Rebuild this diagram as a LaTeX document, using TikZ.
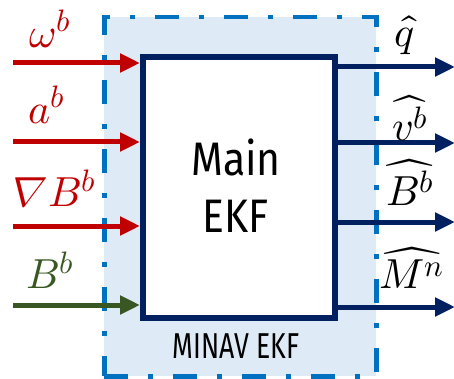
\documentclass[tikz,border=0pt]{standalone}
\usepackage{fontspec}
\usepackage[nabla=italic]{unicode-math}
\newfontfamily\boxfont{Fira Sans}[FakeStretch=0.87]
\newfontfamily\condfont{Fira Sans}[FakeStretch=0.74]
\newcommand\supx[1]{^{\hbox{\fontsize{31}{31}\selectfont$#1$}}}
\usetikzlibrary{arrows.meta}
\definecolor{navy}{HTML}{002060}
\definecolor{inred}{HTML}{C00000}
\definecolor{ingreen}{HTML}{385723}
\definecolor{dashblue}{HTML}{0070C0}
\definecolor{fillblue}{HTML}{DEEBF7}
\tikzset{
  sig/.style={line width=5pt, -{Triangle[length=20pt,width=18pt]}},
  mathlbl/.style={font=\fontsize{42}{44}\selectfont, inner sep=0pt},
}
\begin{document}
\begin{tikzpicture}[x=1pt,y=-1pt]
\useasboundingbox (0,0) rectangle (454,379);
% outer block
\node[draw=dashblue, fill=fillblue, line width=4.5pt,
      dash pattern=on 24pt off 20pt on 5pt off 20pt,
      minimum width=272pt, minimum height=359pt, inner sep=0pt,
      anchor=north west] (outer) at (102,15) {};
\node[font=\condfont\fontsize{36}{36}\selectfont, inner sep=0pt] (minav) at (236,346) {MINAV EKF};
% main block
\node[draw=navy, fill=white, line width=6pt,
      minimum width=192pt, minimum height=261pt, inner sep=0pt,
      anchor=north west] (main) at (140,54) {};
\node[font=\boxfont\fontsize{47}{57}\selectfont, align=center, inner sep=0pt] (title) at (236,186) {Main\\EKF};
% inputs
\coordinate (i1) at (13,63);
\coordinate (i2) at (13,142);
\coordinate (i3) at (13,226);
\coordinate (i4) at (13,305);
\draw[sig, inred] (i1) -- (i1 -| main.west);
\draw[sig, inred] (i2) -- (i2 -| main.west);
\draw[sig, inred] (i3) -- (i3 -| main.west);
\draw[sig, ingreen] (i4) -- (i4 -| main.west);
\node[mathlbl, text=inred] (l1) at (50,29) {$\omega\supx{b}$};
\node[mathlbl, text=inred] (l2) at (47,105) {$a\supx{b}$};
\node[mathlbl, text=inred] (l3) at (55,189) {$\nabla B\supx{b}$};
\node[mathlbl, text=ingreen] (l4) at (50,270) {$B\supx{b}$};
% outputs
\coordinate (o1) at (455,67);
\coordinate (o2) at (455,143);
\coordinate (o3) at (455,222);
\coordinate (o4) at (455,307);
\draw[sig, navy] (o1 -| main.east) -- (o1);
\draw[sig, navy] (o2 -| main.east) -- (o2);
\draw[sig, navy] (o3 -| main.east) -- (o3);
\draw[sig, navy] (o4 -| main.east) -- (o4);
\node[mathlbl] (r1) at (405,35) {$\hat{q}$};
\node[mathlbl] (r2) at (410,118) {$\widehat{v\supx{b}}$};
\node[mathlbl] (r3) at (410,182) {$\widehat{B\supx{b}}$};
\node[mathlbl] (r4) at (412,268) {$\widehat{M\supx{n}}$};
\end{tikzpicture}
\end{document}
